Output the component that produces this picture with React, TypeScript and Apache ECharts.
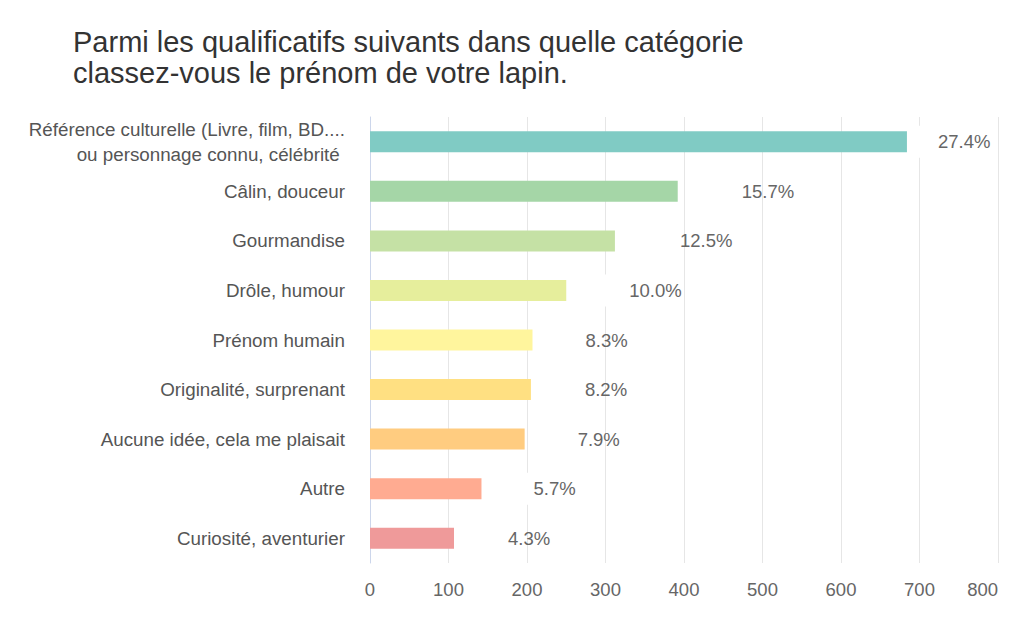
import React, { useEffect, useRef } from "react";
import * as echarts from "echarts";

const titleLines = [
  "Parmi les qualificatifs suivants dans quelle catégorie",
  "classez-vous le prénom de votre lapin.",
];

const categories = [
  "Référence culturelle (Livre, film, BD....\nou personnage connu, célébrité ",
  "Câlin, douceur",
  "Gourmandise",
  "Drôle, humour",
  "Prénom humain",
  "Originalité, surprenant",
  "Aucune idée, cela me plaisait",
  "Autre",
  "Curiosité, aventurier",
];

const values = [684, 392, 312, 250, 207, 205, 197, 142, 107];

const barColors = [
  "#80CBC4",
  "#A5D6A7",
  "#C5E1A5",
  "#E6EE9C",
  "#FFF59D",
  "#FFE082",
  "#FFCC80",
  "#FFAB91",
  "#EF9A9A",
];

// label spacing after each bar (style only)
const labelGaps = [3, 36, 37, 35, 25, 26, 25, 24, 26];

const xMin = 0;
const xMax = 800;
const xInterval = 100;

const FONT = "'Liberation Sans', Arial, Helvetica, sans-serif";

export default function App() {
  const ref = useRef<HTMLDivElement>(null);

  useEffect(() => {
    if (!ref.current) return;
    const chart = echarts.init(ref.current, null, { renderer: "svg" });
    const total = values.reduce((a, b) => a + b, 0);

    chart.setOption({
      animation: false,
      backgroundColor: "#ffffff",
      textStyle: { fontFamily: FONT },
      title: {
        text: titleLines.join("\n"),
        left: 73,
        top: 26,
        padding: 0,
        textStyle: {
          fontFamily: FONT,
          fontSize: 29,
          fontWeight: "normal",
          color: "#333333",
          lineHeight: 31,
        },
      },
      grid: {
        left: 370,
        right: 26,
        top: 117,
        bottom: 60,
        containLabel: false,
      },
      xAxis: {
        type: "value",
        min: xMin,
        max: xMax,
        interval: xInterval,
        axisLine: { show: false },
        axisTick: { show: false },
        splitLine: { show: true, lineStyle: { color: "#e6e6e6", width: 1 } },
        axisLabel: {
          color: "#666666",
          fontSize: 18.5,
          margin: 17,
          fontFamily: FONT,
          alignMaxLabel: "right",
        },
      },
      yAxis: {
        type: "category",
        data: categories,
        inverse: true,
        axisLine: { show: true, lineStyle: { color: "#ccd6eb", width: 1 } },
        axisTick: { show: false },
        splitLine: { show: false },
        axisLabel: {
          color: "#555555",
          fontSize: 18.8,
          margin: 25,
          lineHeight: 25,
          fontFamily: FONT,
          align: "right",
        },
      },
      series: [
        {
          type: "bar",
          barWidth: 21,
          data: values.map((v, i) => ({
            value: v,
            itemStyle: { color: barColors[i] },
            label: {
              show: true,
              position: "right",
              distance: labelGaps[i],
              formatter: () =>
                "{gap| }{v|" + ((v / total) * 100).toFixed(1) + "%}",
              rich: {
                gap: { width: 28, height: 32, backgroundColor: "#ffffff" },
                v: { fontSize: 18.5, color: "#666666", fontFamily: FONT },
              },
            },
          })),
        },
      ],
    });

    return () => chart.dispose();
  }, []);

  return (
    <div
      ref={ref}
      style={{ position: "fixed", left: 0, top: 0, width: 1024, height: 623 }}
    />
  );
}
